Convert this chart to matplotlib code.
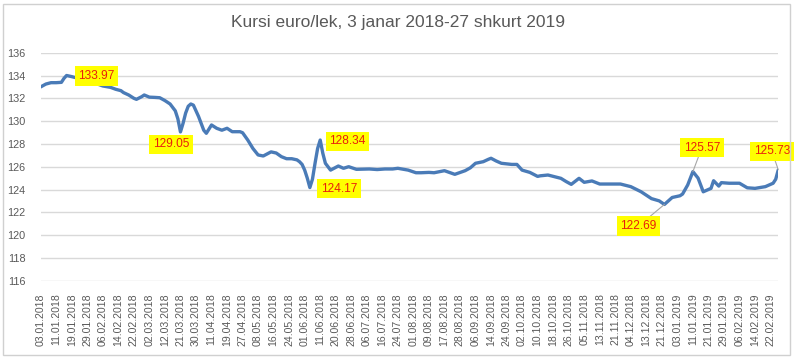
import matplotlib
matplotlib.use("Agg")
import matplotlib.pyplot as plt
from matplotlib.patches import Rectangle

title = "Kursi euro/lek, 3 janar 2018-27 shkurt 2019"

tick_labels = [
    "03.01.2018", "11.01.2018", "19.01.2018", "29.01.2018", "06.02.2018", "14.02.2018",
    "22.02.2018", "02.03.2018", "12.03.2018", "21.03.2018", "30.03.2018", "11.04.2018",
    "19.04.2018", "27.04.2018", "08.05.2018", "16.05.2018", "24.05.2018", "01.06.2018",
    "11.06.2018", "20.06.2018", "28.06.2018", "06.07.2018", "16.07.2018", "24.07.2018",
    "01.08.2018", "09.08.2018", "17.08.2018", "28.08.2018", "06.09.2018", "14.09.2018",
    "24.09.2018", "02.10.2018", "10.10.2018", "18.10.2018", "26.10.2018", "05.11.2018",
    "13.11.2018", "21.11.2018", "04.12.2018", "13.12.2018", "21.12.2018", "03.01.2019",
    "11.01.2019", "21.01.2019", "29.01.2019", "06.02.2019", "14.02.2019", "22.02.2019",
]
days_per_tick = 6
n_days = 286

# business-day index and EUR/ALL rate
day_idx = [
    0, 2, 4, 6, 8, 9, 10, 11, 12, 13, 16, 19, 22, 24, 27, 29, 31, 32, 34, 36, 37, 39, 40,
    42, 44, 46, 48, 50, 52, 53, 54, 55, 56, 57, 58, 59, 60, 61, 62, 63, 64, 66, 68, 70,
    72, 74, 77, 78, 80, 82, 84, 86, 89, 91, 93, 95, 97, 99, 100, 101, 102, 103, 104, 105,
    106, 107, 108, 109, 110, 112, 115, 117, 119, 122, 127, 130, 133, 136, 138, 142, 145,
    147, 150, 152, 156, 160, 164, 166, 168, 171, 173, 174, 176, 178, 182, 184, 186, 189,
    192, 193, 196, 199, 201, 203, 205, 208, 210, 213, 216, 224, 228, 232, 236, 239, 241,
    244, 247, 248, 250, 252, 254, 256, 259, 260, 262, 263, 266, 270, 273, 276, 280, 283,
    284, 285,
]
rate = [
    133.00, 133.25, 133.37, 133.37, 133.40, 133.75, 134.00, 133.95, 133.90, 133.84, 133.70,
    133.50, 133.25, 133.08, 132.96, 132.79, 132.67, 132.50, 132.29, 132.00, 131.91, 132.14,
    132.29, 132.10, 132.08, 132.05, 131.80, 131.50, 130.90, 130.20, 129.05, 129.80, 130.70,
    131.30, 131.50, 131.40, 130.90, 130.40, 129.80, 129.20, 128.93, 129.66, 129.37, 129.20,
    129.37, 129.07, 129.07, 128.98, 128.34, 127.60, 127.03, 126.94, 127.30, 127.20, 126.88,
    126.70, 126.70, 126.60, 126.44, 126.20, 125.70, 125.00, 124.17, 124.90, 126.30, 127.60,
    128.34, 127.18, 126.30, 125.70, 126.06, 125.86, 126.00, 125.77, 125.80, 125.75, 125.80,
    125.80, 125.86, 125.70, 125.47, 125.47, 125.50, 125.47, 125.65, 125.33, 125.65, 125.90,
    126.30, 126.44, 126.65, 126.74, 126.50, 126.30, 126.20, 126.20, 125.70, 125.50, 125.15,
    125.20, 125.27, 125.10, 124.98, 124.70, 124.45, 124.98, 124.63, 124.75, 124.48, 124.48,
    124.25, 123.80, 123.20, 123.00, 122.69, 123.30, 123.45, 123.60, 124.40, 125.57, 125.00,
    123.80, 124.10, 124.77, 124.30, 124.60, 124.55, 124.55, 124.15, 124.10, 124.25, 124.55,
    124.90, 125.73,
]

# data labels: text, point (day index, value), label centre (day index, value), leader line
labels = [
    ("133.97", (10, 134.00), (21.5, 133.96), False),
    ("129.05", (54, 129.05), (50.3, 127.95), False),
    ("128.34", (108, 128.34), (118.6, 128.23), False),
    ("124.17", (104, 124.17), (115.2, 124.07), False),
    ("122.69", (241, 122.69), (231.0, 120.80), True),
    ("125.57", (252, 125.57), (255.5, 127.68), True),
    ("125.73", (285, 125.73), (282.5, 127.35), True),
]

W, H = 800, 358
fig = plt.figure(figsize=(W / 100, H / 100), dpi=100)
fig.patch.set_facecolor("white")
font = ["Liberation Sans", "DejaVu Sans"]

# chart-area border
fig.add_artist(Rectangle((3 / W, 1 - 355 / H), 787 / W, 351 / H, transform=fig.transFigure,
                         fill=False, edgecolor="#D0D0D0", linewidth=1.0))

left, right, top, bottom = 40.7, 778.3, 52.7, 280.7
ax = fig.add_axes([left / W, 1 - bottom / H, (right - left) / W, (bottom - top) / H])

ax.plot(day_idx, rate, color="#4A7BB7", linewidth=2.4, solid_joinstyle="round",
        solid_capstyle="round", zorder=3)

ax.set_xlim(0, n_days - 1)
ax.set_ylim(116, 136)
ax.set_yticks(range(116, 137, 2))
ax.set_xticks(range(0, len(tick_labels) * days_per_tick, days_per_tick))
ax.set_xticklabels(tick_labels, rotation=90, fontsize=7.6, color="#595959", family=font)
for t in ax.get_yticklabels():
    t.set_fontsize(7.8)
    t.set_color("#595959")
    t.set_family(font)
ax.tick_params(axis="both", length=0)
ax.tick_params(axis="y", pad=11)
ax.tick_params(axis="x", pad=9)
ax.grid(axis="y", color="#D9D9D9", linewidth=1.0)
ax.set_axisbelow(True)
for s in ax.spines.values():
    s.set_visible(False)

for txt, (px, py), (lx, ly), leader in labels:
    if leader:
        ax.annotate(txt, xy=(px, py), xytext=(lx, ly), textcoords="data",
                    ha="center", va="center", fontsize=8.6, color="#E8200C", family=font,
                    bbox=dict(boxstyle="square,pad=0.3", facecolor="#FFFF00", edgecolor="none"),
                    arrowprops=dict(arrowstyle="-", color="#A6A6A6", linewidth=0.8,
                                    shrinkA=0, shrinkB=0),
                    zorder=5)
    else:
        ax.text(lx, ly, txt, ha="center", va="center", fontsize=8.6, color="#E8200C",
                family=font,
                bbox=dict(boxstyle="square,pad=0.3", facecolor="#FFFF00", edgecolor="none"),
                zorder=5)

fig.text(398 / W, 1 - 22 / H, title, ha="center", va="center", fontsize=12.5,
         color="#595959", family=font)

fig.savefig("out.png", dpi=100)
